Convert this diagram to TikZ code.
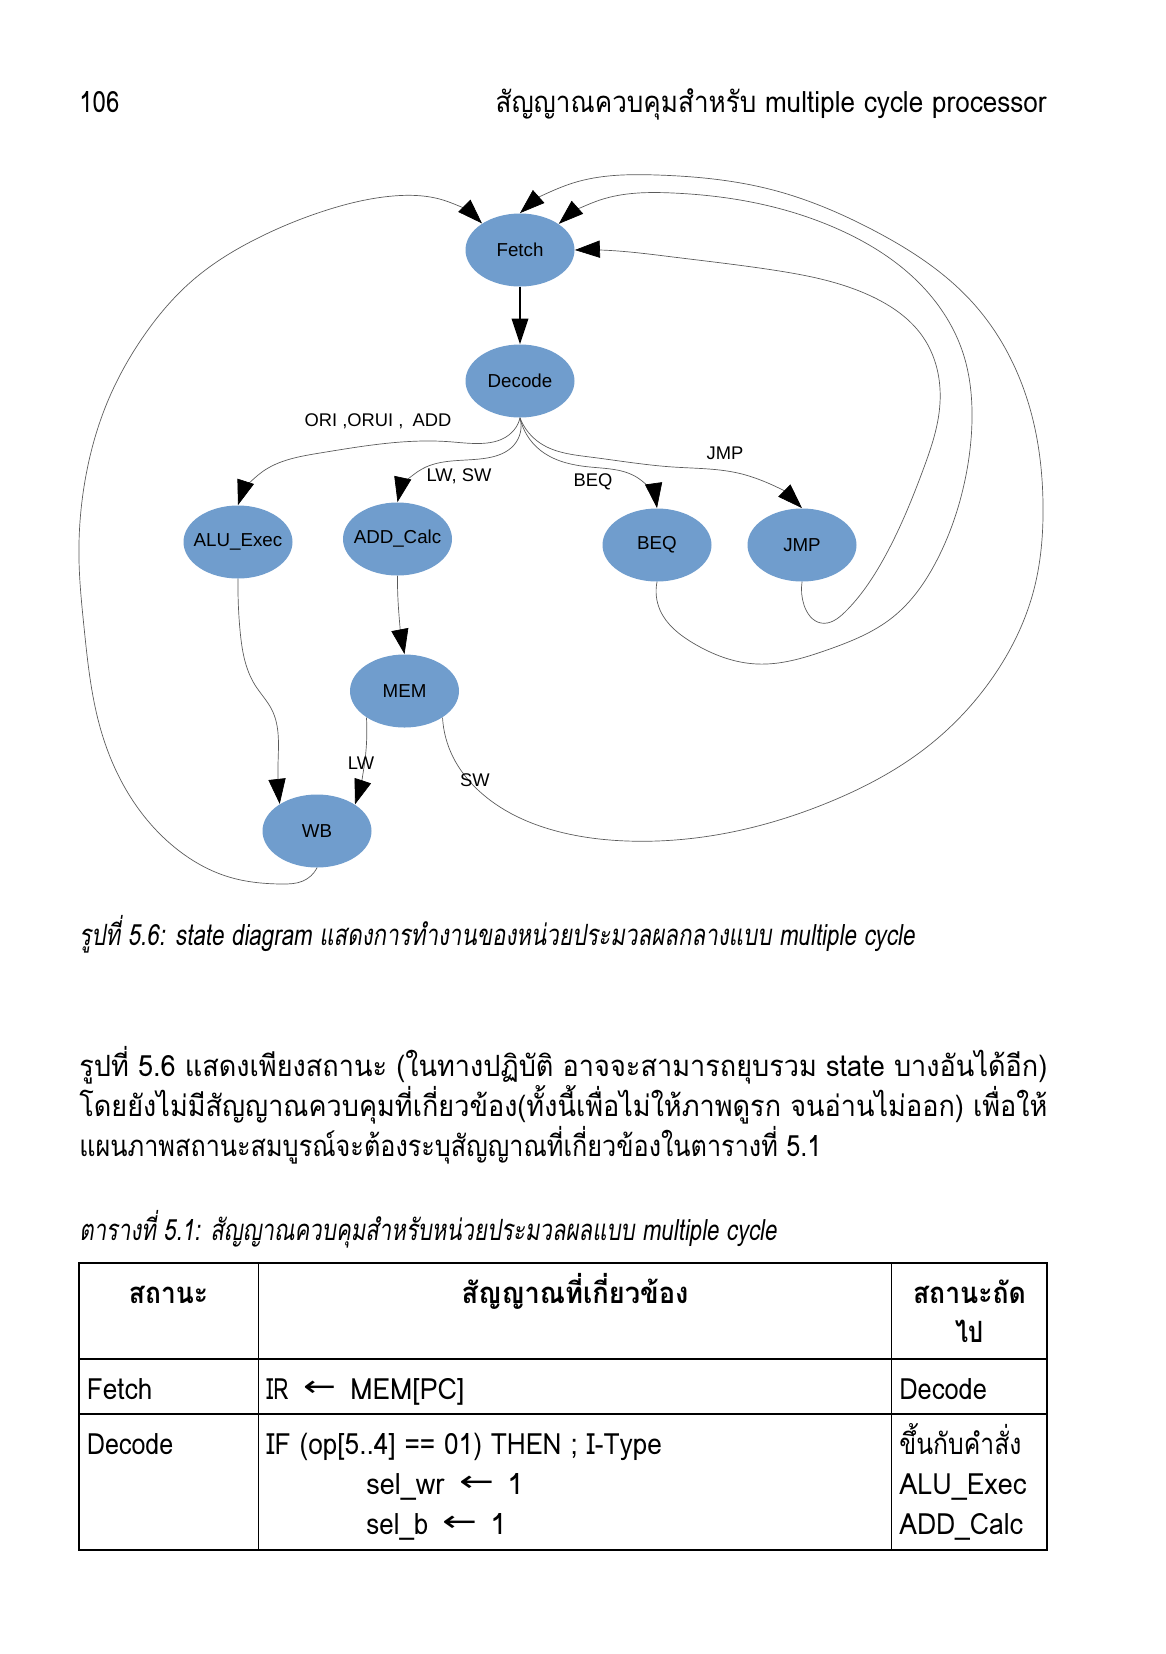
\documentclass[tikz,border=0pt]{standalone}
\usepackage{fontspec}
\usepackage{graphicx}
\usetikzlibrary{shapes.geometric,arrows.meta,hobby}
\setmainfont{Liberation Sans}
\newfontfamily\thf[Script=Thai]{Loma}
\newfontfamily\thfi[Script=Thai,FakeSlant=0.2]{Loma}
\newfontfamily\arf{DejaVu Sans}
\newlength\pxu \setlength\pxu{0.180103mm}
\newcommand\fitw[2]{\resizebox{#1\pxu}{\height}{#2}}
\newcommand\larr[1]{\fitw{#1}{\arf ←}}
\newcommand\zw[1]{\makebox[0pt]{#1}}
\definecolor{nodeblue}{RGB}{112,157,205}
\definecolor{edgegray}{RGB}{90,90,90}
\begin{document}
\begin{tikzpicture}[x=0.180103mm,y=-0.180103mm,
  state/.style={ellipse,fill=nodeblue,inner sep=0pt,
    minimum width=19.63mm,minimum height=13.15mm,
    font=\fontsize{9.6}{11}\selectfont},
  edge/.style={draw=edgegray,line width=0.35pt,
    -{Triangle[length=4.5mm,width=3.1mm,color=black]}},
  elabel/.style={inner sep=0pt,font=\fontsize{9.4}{11}\selectfont},
  ttext/.style={inner sep=0pt,anchor=base west,font=\thf\fontsize{15}{18}\selectfont},
  tctext/.style={ttext,anchor=base},
  tbtext/.style={tctext,font=\thf\bfseries\fontsize{15}{18}\selectfont},
  capt/.style={inner sep=0pt,anchor=base west,font=\thfi\fontsize{15}{18}\selectfont},
  tline/.style={line width=0.6pt,black}]
\useasboundingbox[fill=white] (0,0) rectangle (1166,1654);

% header
\node[ttext] (pg) at (79,112) {\fitw{40}{106}};
\node[ttext,anchor=base east] (hd) at (1047,112) {\fitw{551}{สัญญาณควบคุมสำหรับ multiple cycle processor}};

% states
\node[state] (Fetch) at (520,250) {\zw{Fetch}};
\node[state] (Decode) at (520,381) {\zw{Decode}};
\node[state] (ALU_Exec) at (238,542) {\zw{ALU\_Exec}};
\node[state] (ADD_Calc) at (397.5,539) {\zw{ADD\_Calc}};
\node[state] (BEQ) at (657,545) {\zw{BEQ}};
\node[state] (JMP) at (802,545) {\zw{JMP}};
\node[state] (MEM) at (404.5,691) {\zw{MEM}};
\node[state] (WB) at (317,831) {\zw{WB}};

% edges
\draw[line width=0.7pt,black,-{Triangle[length=4.6mm,width=3mm]}] (Fetch) -- (Decode);
\draw[edge,use Hobby shortcut] (Decode.south) .. (514,430) .. (453,442) .. (320,453) .. (262,472) .. (ALU_Exec.north);
\draw[edge,use Hobby shortcut] (Decode.south) .. (514,445) .. (487,458) .. (422,469) .. (ADD_Calc.north);
\draw[edge,use Hobby shortcut] (Decode.south) .. (540,450) .. (590,467) .. (638,478) .. (BEQ.north);
\draw[edge,use Hobby shortcut] (Decode.south) .. (540,443) .. (590,457) .. (673,467) .. (742,474) .. (JMP.north);
\draw[edge,use Hobby shortcut] (ADD_Calc.south) .. (398,600) .. (MEM.north);
\draw[edge,use Hobby shortcut] (ALU_Exec.south) .. (240,630) .. (255,685) .. (272,710) .. (278,765) .. (WB.144);
\draw[edge,use Hobby shortcut] (MEM.215) .. (365,760) .. (WB.35);
\draw[edge,use Hobby shortcut] (MEM.325) .. (453,757) .. (478,790) .. (560,832) .. (627,841) .. (727,833) .. (827,803) .. (927,747) .. (993,677) .. (1033,593) .. (1043,503) .. (1033,420) .. (973,303) .. (873,230) .. (773,190) .. (657,175) .. (573,183) .. (Fetch.north);
\draw[edge,use Hobby shortcut] (BEQ.south) .. (660,610) .. (693,643) .. (757,664) .. (827,650) .. (893,617) .. (937,560) .. (965,480) .. (972,420) .. (963,353) .. (923,287) .. (840,230) .. (740,200) .. (673,193) .. (600,200) .. (Fetch.34);
\draw[edge,use Hobby shortcut] (JMP.south) .. (804,605) .. (821,623) .. (845,612) .. (883,560) .. (923,470) .. (940,403) .. (923,337) .. (873,297) .. (773,270) .. (673,257) .. (600,250) .. (Fetch.east);
\draw[edge,use Hobby shortcut] (WB.south) .. (303,881) .. (282,884) .. (229,877) .. (178,850) .. (128,793) .. (100,727) .. (84,627) .. (79,560) .. (87,470) .. (107,403) .. (143,337) .. (193,280) .. (260,237) .. (327,210) .. (393,196) .. (443,200) .. (Fetch.145);

% edge labels
\node[elabel] (l1) at (378,421) {ORI ,ORUI ,\hspace{0.5em}ADD};
\node[elabel] (l2) at (459,476) {LW, SW};
\node[elabel] (l3) at (593,482) {BEQ};
\node[elabel] (l4) at (725,453) {JMP};
\node[elabel] (l5) at (361,763) {LW};
\node[elabel] (l6) at (475,780) {SW};

% captions and body
\node[capt] (cap1) at (79,945) {\fitw{835}{รูปที่ 5.6: state diagram แสดงการทำงานของหน่วยประมวลผลกลางแบบ multiple cycle}};
\node[ttext] (b1) at (79,1076) {\fitw{968}{รูปที่ 5.6 แสดงเพียงสถานะ (ในทางปฏิบัติ อาจจะสามารถยุบรวม state บางอันได้อีก)}};
\node[ttext] (b2) at (79,1116) {\fitw{968}{โดยยังไม่มีสัญญาณควบคุมที่เกี่ยวข้อง(ทั้งนี้เพื่อไม่ให้ภาพดูรก จนอ่านไม่ออก) เพื่อให้}};
\node[ttext] (b3) at (79,1156) {\fitw{742}{แผนภาพสถานะสมบูรณ์จะต้องระบุสัญญาณที่เกี่ยวข้องในตารางที่ 5.1}};
\node[capt] (cap2) at (79,1240) {\fitw{697}{ตารางที่ 5.1: สัญญาณควบคุมสำหรับหน่วยประมวลผลแบบ multiple cycle}};

% table
\draw[tline] (79,1263) rectangle (1047,1550);
\draw[tline] (258.5,1263) -- (258.5,1550);
\draw[tline] (891.6,1263) -- (891.6,1550);
\draw[tline] (79,1359) -- (1047,1359);
\draw[tline] (79,1414) -- (1047,1414);

\node[tbtext] (h1) at (168.5,1303) {\fitw{79}{สถานะ}};
\node[tbtext] (h2) at (575,1303) {\fitw{227}{สัญญาณที่เกี่ยวข้อง}};
\node[tbtext] (h3a) at (969.5,1303) {\fitw{113}{สถานะถัด}};
\node[tbtext] (h3b) at (969,1342) {\fitw{28}{ไป}};

\node[ttext] (r1a) at (86.5,1399) {\fitw{65.5}{Fetch}};
\node[ttext] (r1b) at (266,1399) {\fitw{22}{IR}};
\node[ttext] (r1c) at (303,1396) {\larr{33}};
\node[ttext] (r1d) at (350,1399) {\fitw{114}{MEM[PC]}};
\node[ttext] (r1e) at (899,1399) {\fitw{87.6}{Decode}};

\node[ttext] (r2a) at (86.5,1454) {\fitw{86.5}{Decode}};
\node[ttext] (r2b) at (266,1454) {\fitw{395.6}{IF (op[5..4] == 01) THEN ; I-Type}};
\node[ttext] (r2c) at (366,1494) {\fitw{78}{sel\_wr}};
\node[ttext] (r2d) at (459,1491) {\larr{35}};
\node[ttext] (r2e) at (507,1494) {1};
\node[ttext] (r2f) at (366,1534) {\fitw{62}{sel\_b}};
\node[ttext] (r2g) at (442,1531) {\larr{35}};
\node[ttext] (r2h) at (490,1534) {1};
\node[ttext] (r2i) at (899,1454) {\fitw{122}{ขึ้นกับคำสั่ง}};
\node[ttext] (r2j) at (899,1494) {\fitw{127}{ALU\_Exec}};
\node[ttext] (r2k) at (899,1534) {\fitw{123.5}{ADD\_Calc}};
\end{tikzpicture}
\end{document}
